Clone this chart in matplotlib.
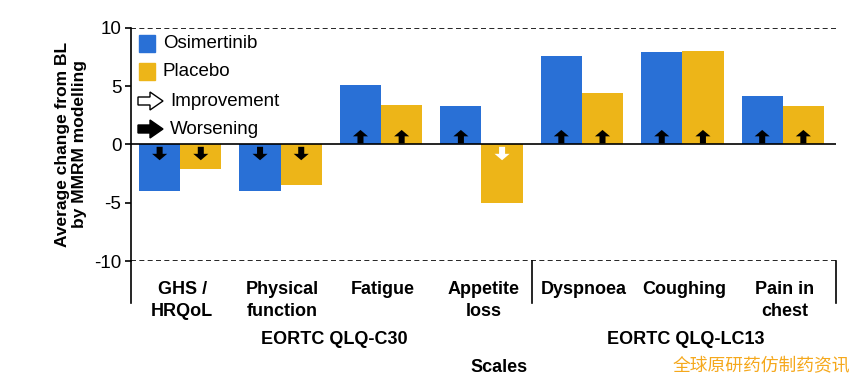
import matplotlib
matplotlib.use("Agg")
import matplotlib.pyplot as plt
import matplotlib.patches as mpatches
import numpy as np

plt.rcParams['font.family'] = ['Liberation Sans', 'DejaVu Sans']

categories = ["GHS /\nHRQoL", "Physical\nfunction", "Fatigue", "Appetite\nloss",
              "Dyspnoea", "Coughing", "Pain in\nchest"]
osimertinib = [-4.0, -4.0, 5.1, 3.3, 7.6, 7.9, 4.2]
placebo = [-2.1, -3.5, 3.4, -5.0, 4.4, 8.0, 3.3]
higher_is_better = [True, True, False, False, False, False, False]
groups = ["EORTC QLQ-C30", "EORTC QLQ-LC13"]
group_members = [[0, 1, 2, 3], [4, 5, 6]]
yticks = [10, 5, 0, -5, -10]

BLUE = "#2970D6"
YELLOW = "#EDB518"

W, H = 867, 383
fig = plt.figure(figsize=(W / 100, H / 100), dpi=100)
ax_l, ax_r, ax_t, ax_b = 131, 836, 28, 261
ax = fig.add_axes([ax_l / W, 1 - ax_b / H, (ax_r - ax_l) / W, (ax_b - ax_t) / H])

x = np.arange(len(categories))
bw = 0.41
ax.bar(x - bw / 2, osimertinib, bw, color=BLUE, zorder=2)
ax.bar(x + bw / 2, placebo, bw, color=YELLOW, zorder=2)

ax.set_xlim(-0.49, 6.53)
ax.set_ylim(-10, 10)

# arrows on bars
for xi, vals in [(x - bw / 2, osimertinib), (x + bw / 2, placebo)]:
    for xc, v, hib in zip(xi, vals, higher_is_better):
        up = v > 0
        worse = (not up) if hib else up
        col = "black" if worse else "white"
        if up:
            y0, dy = 0.1, 1.15
        else:
            y0, dy = -0.2, -1.15
        ax.arrow(xc, y0, 0, dy, width=0.06, head_width=0.15, head_length=0.55,
                 length_includes_head=True, color=col, lw=0, zorder=3)

# reference lines
ax.axhline(0, color="black", lw=1.2, zorder=4)
ax.axhline(10, color="black", lw=1.2, ls=(0, (3, 2)), zorder=1)
ax.axhline(-10, color="black", lw=1.2, ls=(0, (3, 2)), zorder=1)

for s in ["top", "right", "bottom"]:
    ax.spines[s].set_visible(False)
ax.spines["left"].set_linewidth(1.2)
ax.set_xticks([])
ax.set_yticks(yticks)
ax.set_yticklabels([str(t) for t in yticks], fontsize=13.5)
ax.tick_params(axis="y", length=4, width=1.2, pad=3)

ax.set_ylabel("Average change from BL\nby MMRM modelling", fontsize=12.5,
              fontweight="bold", labelpad=5, linespacing=1.2)

# bracket lines below axis
ybot = -13.6
xlo, xhi = ax.get_xlim()
for xv in [xlo, 3.5, xhi]:
    ax.plot([xv, xv], [-10, ybot], color="black", lw=1.2, clip_on=False)

# category labels
trans = ax.get_xaxis_transform()
for xc, lab in zip(x, categories):
    ax.text(xc + 0.02, -0.085, lab, transform=trans, ha="center", va="top",
            fontsize=13, fontweight="bold", linespacing=1.38)

# group labels
for g, mem in zip(groups, group_members):
    lo = max(xlo, mem[0] - 0.5)
    hi = min(xhi, mem[-1] + 0.5)
    ax.text((lo + hi) / 2 + 0.03, -0.335, g, transform=trans, ha="center", va="center",
            fontsize=13, fontweight="bold")

fig.text(499 / W, 1 - 367 / H, "Scales", ha="center", va="center",
         fontsize=13, fontweight="bold")

# legend (manual)
def px(xp, yp):
    return xp / W, 1 - yp / H

for (yc, col, lab) in [(44, BLUE, "Osimertinib"), (72, YELLOW, "Placebo")]:
    x0, y0 = px(139, yc + 8)
    fig.patches.append(mpatches.Rectangle((x0, y0), 16 / W, 17 / H, color=col,
                                          transform=fig.transFigure, figure=fig))
    fig.text(163 / W, 1 - yc / H, lab, fontsize=13.5, va="center")

def legend_arrow(yc, face):
    xs = [138, 150, 150, 163, 150, 150, 138]
    ys = [yc - 4, yc - 4, yc - 9, yc, yc + 9, yc + 4, yc + 4]
    pts = [px(a, b) for a, b in zip(xs, ys)]
    fig.patches.append(mpatches.Polygon(pts, closed=True, facecolor=face,
                                        edgecolor="black", lw=1.0,
                                        transform=fig.transFigure, figure=fig))

legend_arrow(101, "white")
fig.text(170 / W, 1 - 102 / H, "Improvement", fontsize=13.5, va="center")
legend_arrow(129, "black")
fig.text(170 / W, 1 - 130 / H, "Worsening", fontsize=13.5, va="center")

# watermark
fig.text(761 / W, 1 - 366 / H, "全球原研药仿制药资讯", ha="center", va="center",
         fontsize=12.8, color="#F5A81C",
         family=["Noto Sans CJK SC", "DejaVu Sans"])

fig.savefig("out.png", dpi=100)
